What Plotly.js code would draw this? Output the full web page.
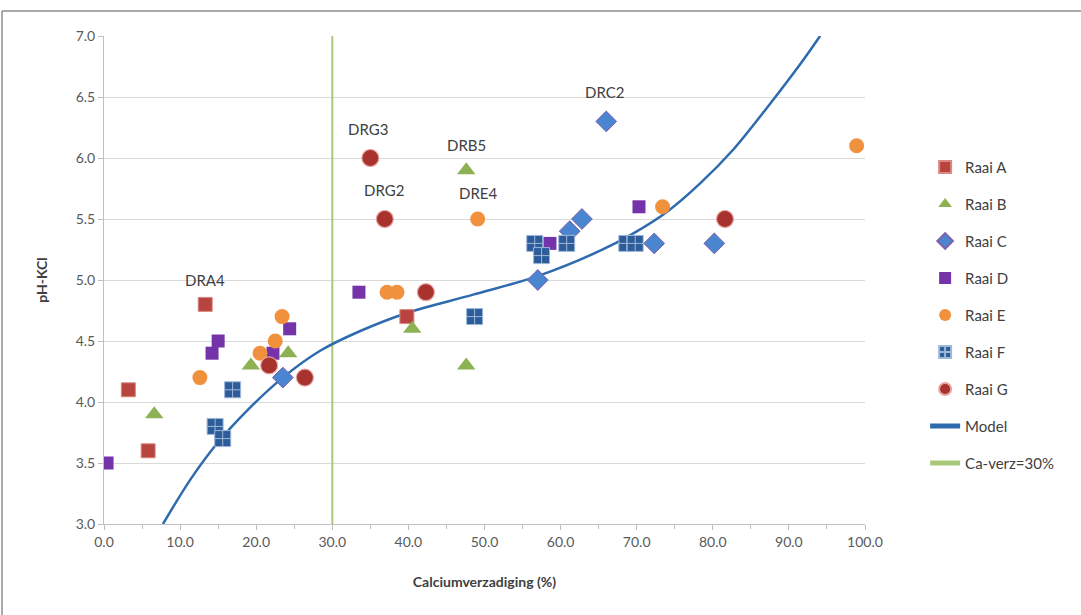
<!DOCTYPE html>
<html>
<head>
<meta charset="utf-8">
<script src="https://cdn.plot.ly/plotly-3.0.1.min.js"></script>
<style>html,body{margin:0;padding:0;background:#fff;}#chart{width:1081px;height:615px;}</style>
</head>
<body>
<div id="chart"></div>
<script>
// Raai A
const raaiA_x = [3.2, 5.8, 13.3, 39.8];
const raaiA_y = [4.1, 3.6, 4.8, 4.7];
// Raai B
const raaiB_x = [6.6, 19.3, 24.2, 40.5, 47.6, 47.6];
const raaiB_y = [3.9, 4.3, 4.4, 4.6, 5.9, 4.3];
// Raai C
const raaiC_x = [23.5, 57.0, 61.2, 62.8, 66.0, 72.3, 80.2];
const raaiC_y = [4.2, 5.0, 5.4, 5.5, 6.3, 5.3, 5.3];
// Raai D
const raaiD_x = [0.4, 14.2, 15.0, 22.2, 24.4, 33.5, 58.6, 70.3];
const raaiD_y = [3.5, 4.4, 4.5, 4.4, 4.6, 4.9, 5.3, 5.6];
// Raai E
const raaiE_x = [12.6, 20.5, 22.5, 23.4, 37.2, 38.5, 49.1, 73.4, 98.9];
const raaiE_y = [4.2, 4.4, 4.5, 4.7, 4.9, 4.9, 5.5, 5.6, 6.1];
// Raai F
const raaiF_x = [14.6, 15.6, 16.9, 48.7, 56.6, 57.5, 60.8, 68.7, 69.8];
const raaiF_y = [3.8, 3.7, 4.1, 4.7, 5.3, 5.2, 5.3, 5.3, 5.3];
// Raai G
const raaiG_x = [21.7, 26.4, 35.0, 36.9, 42.3, 81.6];
const raaiG_y = [4.3, 4.2, 6.0, 5.5, 4.9, 5.5];
// Model curve
const model_x = [7.75, 11.3, 14.85, 18.8, 23.5, 28.4, 33.6, 39.8, 48.5, 56.9, 65.2, 69.5, 74.0, 78.3, 82.7, 87.1, 91.5, 94.1];
const model_y = [3.0, 3.36, 3.66, 3.93, 4.2, 4.42, 4.58, 4.73, 4.88, 5.03, 5.24, 5.38, 5.56, 5.79, 6.07, 6.41, 6.77, 7.0];
// Ca-verz line
const caverz_x = [30, 30];
const caverz_y = [3, 7];
// Labels
const label_text = ["DRA4", "DRG3", "DRB5", "DRG2", "DRE4", "DRC2"];
const label_x = [13.3, 34.7, 47.6, 36.8, 49.1, 65.8];
const label_y = [5.0, 6.24, 6.11, 5.74, 5.71, 6.54];
// Axis ticks
const xtick_vals = [0,10,20,30,40,50,60,70,80,90,100];
const xtick_text = ["0.0","10.0","20.0","30.0","40.0","50.0","60.0","70.0","80.0","90.0","100.0"];
const ytick_vals = [3,3.5,4,4.5,5,5.5,6,6.5,7];
const ytick_text = ["3.0","3.5","4.0","4.5","5.0","5.5","6.0","6.5","7.0"];

const FONT = "Lato, 'Open Sans', sans-serif";

function sc(name, x, y, symbol, color, size, lineColor, lineWidth, grp) {
  return {type:'scatter', mode:'markers', name:name, x:x, y:y, legendgroup:grp,
    marker:{symbol:symbol, color:color, size:size, line:{color:lineColor, width:lineWidth}},
    hoverinfo:'x+y'};
}

const traces = [
  {type:'scatter', mode:'lines', name:'Ca-verz=30%', x:caverz_x, y:caverz_y, showlegend:false,
   line:{color:'#A9C97A', width:2}},
  {type:'scatter', mode:'lines', name:'Model', x:model_x, y:model_y, showlegend:false,
   line:{color:'#2E6BAE', width:2.5, shape:'spline', smoothing:0.9}},
  sc('Raai A', raaiA_x, raaiA_y, 'square', '#B8443F', 14, '#D98A86', 1, 'a'),
  sc('Raai B', raaiB_x, raaiB_y, 'triangle-up', '#8DB254', 16, '#8DB254', 0, 'b'),
  sc('Raai C', raaiC_x, raaiC_y, 'diamond', '#4A86CF', 16, '#8060A8', 1, 'c'),
  sc('Raai D', raaiD_x, raaiD_y, 'square', '#7433A8', 13, '#7433A8', 0, 'd'),
  sc('Raai E', raaiE_x, raaiE_y, 'circle', '#F0913E', 15, '#F0913E', 0, 'e'),
  sc('Raai F', raaiF_x, raaiF_y, 'square-cross', '#2C5C99', 16, '#9FB8D8', 1, 'f'),
  sc('Raai G', raaiG_x, raaiG_y, 'circle', '#A8322E', 17, '#E7A3A1', 1.2, 'g'),
  // legend-only entries for the lines
  {type:'scatter', mode:'lines', name:'Model', x:[null], y:[null], legendgroup:'h',
   line:{color:'#2E6BAE', width:2.5}},
  {type:'scatter', mode:'lines', name:'Ca-verz=30%', x:[null], y:[null], legendgroup:'i',
   line:{color:'#A9C97A', width:2}}
];

const annotations = label_text.map((t,i)=>({x:label_x[i], y:label_y[i], text:t, showarrow:false,
  font:{family:FONT, size:15, color:'#404040'}, xanchor:'center', yanchor:'middle'}));

const layout = {
  width:1081, height:615,
  margin:{l:104, r:216, t:36, b:91},
  paper_bgcolor:'#fff', plot_bgcolor:'#fff',
  font:{family:FONT, color:'#595959'},
  showlegend:true,
  legend:{x:1.079, y:0.765, xanchor:'left', yanchor:'top', traceorder:'grouped', tracegroupgap:14.5,
    itemsizing:'constant',
    font:{family:FONT, size:15, color:'#404040'}, bgcolor:'rgba(0,0,0,0)'},
  xaxis:{range:[0,100], tickvals:xtick_vals, ticktext:xtick_text, showgrid:false, zeroline:false,
    showline:true, linecolor:'#BFBFBF', linewidth:1, ticks:'outside', ticklen:5, tickcolor:'#BFBFBF',
    minor:{dtick:5, ticks:'outside', ticklen:4, tickcolor:'#BFBFBF', showgrid:false},
    tickfont:{family:FONT, size:14, color:'#595959'},
    title:{text:'<b>Calciumverzadiging (%)</b>', font:{family:FONT, size:14, color:'#404040'}, standoff:28}},
  yaxis:{range:[3,7], tickvals:ytick_vals, ticktext:ytick_text, showgrid:true, gridcolor:'#D9D9D9', gridwidth:1,
    zeroline:false, showline:true, linecolor:'#BFBFBF', linewidth:1, ticks:'outside', ticklen:5, tickcolor:'#BFBFBF',
    tickfont:{family:FONT, size:14, color:'#595959'},
    title:{text:'<b>pH-KCl</b>', font:{family:FONT, size:14, color:'#404040'}, standoff:24}},
  annotations:annotations,
  shapes:[
    {type:'line', xref:'paper', yref:'paper', x0:-0.134, x1:1.3, y0:1.0512, y1:1.0512, line:{color:'#8C8C8C', width:1.5}},
    {type:'line', xref:'paper', yref:'paper', x0:-0.134, x1:-0.134, y0:1.0512, y1:-0.2, line:{color:'#8C8C8C', width:1.5}}
  ]
};

Plotly.newPlot('chart', traces, layout, {displayModeBar:false, staticPlot:true});
</script>
</body>
</html>
